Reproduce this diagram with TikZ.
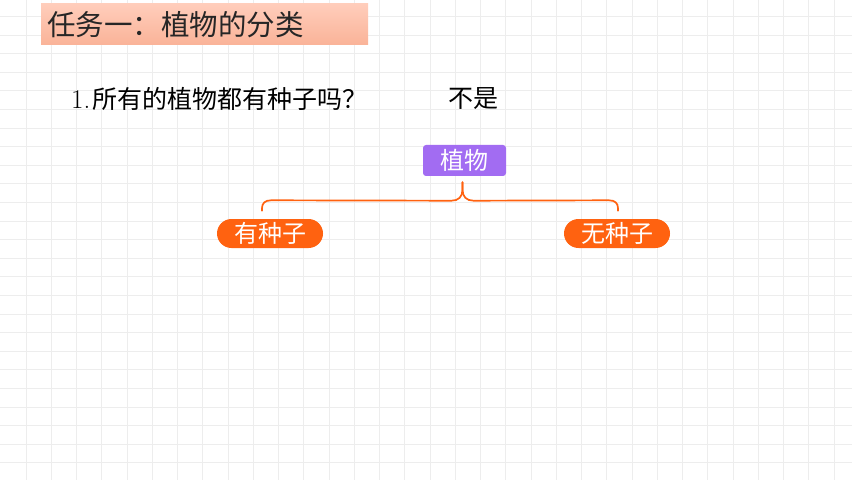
\documentclass[tikz,border=0pt]{standalone}
\usepackage{fontspec}
\newfontfamily\cjk{Noto Sans CJK SC}
\usetikzlibrary{calc}
\definecolor{gridc}{HTML}{EDEDED}
\definecolor{titletop}{HTML}{FFCDBB}
\definecolor{titlebot}{HTML}{FAB398}
\definecolor{plantc}{HTML}{A26CF2}
\definecolor{orangec}{HTML}{FF6210}
\definecolor{txtc}{HTML}{262626}
\tikzset{
  gridline/.style={draw=gridc, line width=0.9pt},
  titlebox/.style={rectangle, inner sep=0pt, minimum width=327pt, minimum height=41pt,
     top color=titletop, bottom color=titlebot, draw=none},
  plainlabel/.style={inner sep=0pt, anchor=west, text=txtc},
  rootbox/.style={rectangle, rounded corners=3pt, fill=plantc, text=white, inner sep=0pt,
     minimum width=83pt, minimum height=31pt, font=\cjk\fontsize{24}{26}\selectfont},
  pill/.style={rectangle, rounded corners=14.5pt, fill=orangec, text=white, inner sep=0pt,
     minimum width=106pt, minimum height=29pt, font=\cjk\fontsize{24}{26}\selectfont},
  bracepath/.style={draw=orangec, line width=1.7pt, line cap=round},
}
\begin{document}
\begin{tikzpicture}[x=1pt,y=-1pt]
\useasboundingbox (0,0) rectangle (860,484);
\fill[white] (0,0) rectangle (860,484);
% background grid
\foreach \i in {0,...,32} {
  \draw[gridline] ({26+25.25*\i},0) -- ({26+25.25*\i},480);
}
\foreach \j in {0,...,24} {
  \draw[gridline] (0,{16.5+18.6*\j}) -- (852,{16.5+18.6*\j});
}
% title
\node[titlebox] (title) at (204.5,24.5) {};
\node[plainlabel, font=\cjk\fontsize{28.5}{31}\selectfont] (titletext) at (47,24.5) {任务一：植物的分类};
% question
\node[plainlabel, font=\fontsize{25}{28}\selectfont, text=black] (q) at (71,99) {{\fontsize{27}{29}\selectfont 1.}\kern2pt{\cjk 所有的植物都有种子吗？}};
\node[plainlabel, font=\cjk\fontsize{25}{28}\selectfont, text=black] (ans) at (448,99) {不是};
% tree
\node[rootbox] (plant) at (464.5,160.5) {植物};
\node[pill] (seed) at (270,233.5) {有种子};
\node[pill] (noseed) at (617,233.5) {无种子};
\coordinate (tip) at ($(plant.south)+(-2,6)$);
\coordinate (bl) at ($(seed.north)+(-8,-8)$);
\coordinate (br) at ($(noseed.north)+(1,-8)$);
\draw[bracepath] (tip) -- ($(tip)+(0,7.5)$)
  .. controls ($(tip)+(0,14.5)$) and ($(tip)+(-4,18.5)$) .. ($(tip)+(-11,18.5)$)
  -- ($(bl)+(9,-10.5)$)
  .. controls ($(bl)+(3,-10.5)$) and ($(bl)+(0,-7.5)$) .. ($(bl)+(0,-2.5)$) -- (bl);
\draw[bracepath] (tip) -- ($(tip)+(0,7.5)$)
  .. controls ($(tip)+(0,14.5)$) and ($(tip)+(4,18.5)$) .. ($(tip)+(11,18.5)$)
  -- ($(br)+(-9,-10.5)$)
  .. controls ($(br)+(-3,-10.5)$) and ($(br)+(0,-7.5)$) .. ($(br)+(0,-2.5)$) -- (br);
\end{tikzpicture}
\end{document}
